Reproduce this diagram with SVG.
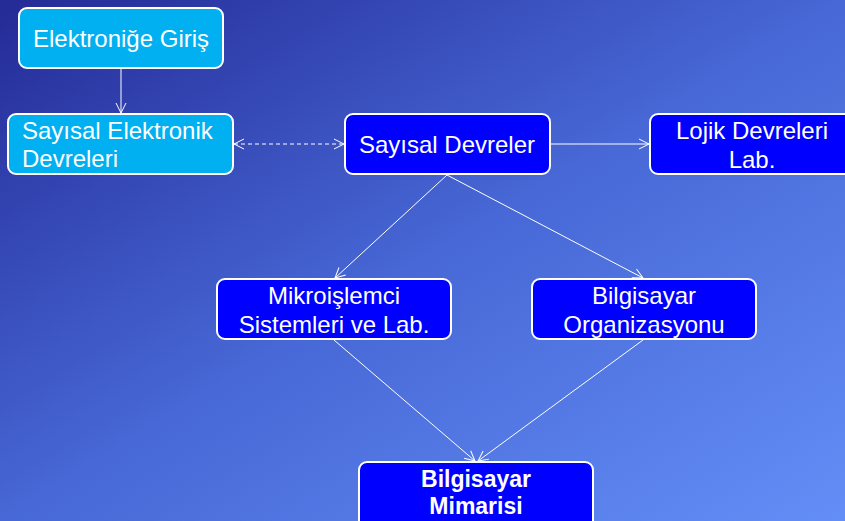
<svg xmlns="http://www.w3.org/2000/svg" width="845" height="521" viewBox="0 0 845 521">
<defs>
<linearGradient id="bg" x1="0" y1="0" x2="1" y2="1">
<stop offset="0" stop-color="#242A96"/>
<stop offset="0.5" stop-color="#4768D6"/>
<stop offset="1" stop-color="#648EF7"/>
</linearGradient>
<marker id="ah" viewBox="0 0 12 12" refX="11" refY="6" markerWidth="12" markerHeight="12" markerUnits="userSpaceOnUse" orient="auto-start-reverse">
<path d="M1,1 L11,6 L1,11" fill="none" stroke="#FFFFFF" stroke-width="1"/>
</marker>
<style>
.box{stroke:#FFFFFF;stroke-width:2}
.cyan{fill:#00B0F0}
.blue{fill:#0000FF}
.t{font-family:"Liberation Sans",Arial,sans-serif;font-size:24px;fill:#FFFFFF}
.c{text-anchor:middle}
.b{font-weight:bold;font-size:23px}
.ln{stroke:#FFFFFF;stroke-width:1;fill:none}
</style>
</defs>
<rect width="845" height="521" fill="url(#bg)"/>
<g id="connectors">
<line class="ln" x1="121" y1="68" x2="121" y2="113" marker-end="url(#ah)"/>
<line class="ln" x1="234" y1="144" x2="344" y2="144" stroke-dasharray="4,3" marker-start="url(#ah)" marker-end="url(#ah)"/>
<line class="ln" x1="551" y1="144" x2="649" y2="144" marker-end="url(#ah)"/>
<line class="ln" x1="447" y1="175" x2="335" y2="278" marker-end="url(#ah)"/>
<line class="ln" x1="447" y1="175" x2="643" y2="278" marker-end="url(#ah)"/>
<line class="ln" x1="334" y1="340" x2="475" y2="461" marker-end="url(#ah)"/>
<line class="ln" x1="643" y1="340" x2="478" y2="461" marker-end="url(#ah)"/>
</g>
<g id="n1">
<rect class="box cyan" x="19" y="8" width="204" height="60" rx="8"/>
<text class="t c" x="121" y="47">Elektroniğe Giriş</text>
</g>
<g id="n2">
<rect class="box cyan" x="8" y="114" width="225" height="60" rx="8"/>
<text class="t" x="22" y="139">Sayısal Elektronik</text>
<text class="t" x="22" y="167">Devreleri</text>
</g>
<g id="n3">
<rect class="box blue" x="345" y="114" width="205" height="60" rx="8"/>
<text class="t c" x="447" y="153">Sayısal Devreler</text>
</g>
<g id="n4">
<rect class="box blue" x="650" y="114" width="204" height="60" rx="8"/>
<text class="t c" x="752" y="139">Lojik Devreleri</text>
<text class="t c" x="752" y="168">Lab.</text>
</g>
<g id="n5">
<rect class="box blue" x="217" y="279" width="234" height="60" rx="8"/>
<text class="t c" x="334" y="304">Mikroişlemci</text>
<text class="t c" x="334" y="333">Sistemleri ve Lab.</text>
</g>
<g id="n6">
<rect class="box blue" x="532" y="279" width="224" height="60" rx="8"/>
<text class="t c" x="644" y="304">Bilgisayar</text>
<text class="t c" x="644" y="333">Organizasyonu</text>
</g>
<g id="n7">
<rect class="box blue" x="359" y="462" width="234" height="70" rx="8"/>
<text class="t c b" x="476" y="487">Bilgisayar</text>
<text class="t c b" x="476" y="514">Mimarisi</text>
</g>
</svg>
